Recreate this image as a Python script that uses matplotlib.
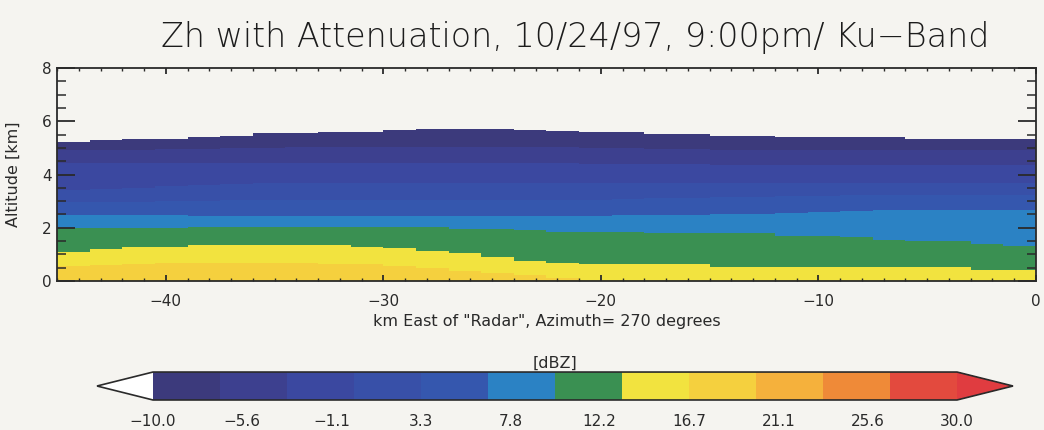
import numpy as np
import matplotlib
matplotlib.use("Agg")
import matplotlib.pyplot as plt
from matplotlib.colors import ListedColormap, BoundaryNorm
from matplotlib.ticker import MultipleLocator, FuncFormatter

# range columns (km east of radar), 1.5 km wide
x_edges = np.linspace(-45.0, 0.0, 31)

# heights (km) of the reflectivity level crossings in each column
echo_top = [5.24, 5.30, 5.34, 5.34, 5.40, 5.46, 5.55, 5.55, 5.61, 5.61,
            5.68, 5.71, 5.71, 5.71, 5.68, 5.65, 5.59, 5.59, 5.53, 5.53,
            5.45, 5.45, 5.40, 5.40, 5.40, 5.40, 5.33, 5.33, 5.33, 5.33]
h_m67 = [4.92, 4.92, 4.92, 4.94, 4.96, 4.98, 5.00, 5.02, 5.04, 5.04,
         5.04, 5.04, 5.04, 5.04, 5.04, 5.02, 5.00, 4.98, 4.96, 4.94,
         4.92, 4.92, 4.92, 4.92, 4.92, 4.92, 4.92, 4.92, 4.92, 4.92]
h_m33 = [4.44, 4.44, 4.44, 4.44, 4.44, 4.44, 4.44, 4.44, 4.44, 4.44,
         4.44, 4.44, 4.44, 4.44, 4.44, 4.42, 4.40, 4.40, 4.38, 4.38,
         4.36, 4.36, 4.36, 4.36, 4.36, 4.36, 4.36, 4.36, 4.36, 4.36]
h_0 = [3.42, 3.45, 3.50, 3.55, 3.60, 3.64, 3.68, 3.68, 3.68, 3.68,
       3.68, 3.68, 3.68, 3.68, 3.68, 3.68, 3.68, 3.68, 3.68, 3.68,
       3.68, 3.68, 3.68, 3.68, 3.68, 3.68, 3.68, 3.68, 3.68, 3.68]
h_33 = [2.95, 2.95, 2.98, 3.00, 3.02, 3.04, 3.05, 3.05, 3.05, 3.05,
        3.05, 3.05, 3.05, 3.05, 3.05, 3.05, 3.05, 3.08, 3.10, 3.12,
        3.14, 3.16, 3.18, 3.20, 3.22, 3.22, 3.24, 3.24, 3.24, 3.24]
h_67 = [2.48, 2.48, 2.48, 2.48, 2.46, 2.46, 2.44, 2.44, 2.44, 2.44,
        2.44, 2.44, 2.44, 2.44, 2.44, 2.44, 2.46, 2.48, 2.48, 2.48,
        2.50, 2.52, 2.54, 2.58, 2.62, 2.65, 2.67, 2.67, 2.67, 2.67]
h_10 = [1.98, 1.98, 1.98, 1.98, 2.04, 2.04, 2.04, 2.04, 2.04, 2.04,
        2.04, 2.04, 1.94, 1.94, 1.90, 1.85, 1.85, 1.85, 1.82, 1.82,
        1.82, 1.82, 1.70, 1.70, 1.67, 1.54, 1.52, 1.50, 1.38, 1.30]
h_133 = [1.10, 1.20, 1.29, 1.29, 1.35, 1.35, 1.35, 1.35, 1.35, 1.29,
         1.23, 1.14, 1.06, 0.91, 0.75, 0.69, 0.63, 0.63, 0.63, 0.63,
         0.54, 0.54, 0.54, 0.54, 0.54, 0.54, 0.51, 0.51, 0.41, 0.41]
h_167 = [0.55, 0.60, 0.64, 0.66, 0.66, 0.66, 0.66, 0.66, 0.64, 0.62,
         0.58, 0.50, 0.38, 0.30, 0.22, 0.12, 0.00, 0.00, 0.00, 0.00,
         0.00, 0.00, 0.00, 0.00, 0.00, 0.00, 0.00, 0.00, 0.00, 0.00]

levels = np.linspace(-10.0, 30.0, 13)
colors = ["#3c3a7c", "#3d408f", "#3b48a0", "#3850a8", "#3557ae", "#2b82c4",
          "#3a9052", "#f2e33f", "#f5d03e", "#f5b13c", "#ef8a38", "#e34a3e"]
cbar_ticks = np.linspace(-10.0, 30.0, 10)

title = "Zh with Attenuation, 10/24/97, 9:00pm/ Ku\u2212Band"

# build the height/range field: band index counts the crossings above each height
h_edges = np.linspace(0.0, 8.0, 801)
h_mid = 0.5 * (h_edges[1:] + h_edges[:-1])
crossings = np.array([h_m67, h_m33, h_0, h_33, h_67, h_10, h_133, h_167])
band_mid = 0.5 * (levels[1:] + levels[:-1])
band = (crossings[:, None, :] > h_mid[None, :, None]).sum(axis=0)
zh = band_mid[band]
zh = np.ma.masked_where(h_mid[:, None] > np.array(echo_top)[None, :], zh)

cmap = ListedColormap(colors)
cmap.set_under("white")
cmap.set_over("#e03c40")
cmap.set_bad((0, 0, 0, 0))
norm = BoundaryNorm(levels, cmap.N)

paper = "#f5f4f0"
ink = "#2a2a2a"
fig = plt.figure(figsize=(10.44, 4.30), dpi=100, facecolor=paper)
ax = fig.add_axes([0.0546, 0.3465, 0.9377, 0.4953], facecolor=paper)
mesh = ax.pcolormesh(x_edges, h_edges, zh, cmap=cmap, norm=norm, shading="flat")

ax.set_xlim(-45, 0)
ax.set_ylim(0, 8)
ax.set_xticks([-40, -30, -20, -10, 0])
ax.set_yticks([0, 2, 4, 6, 8])
ax.xaxis.set_minor_locator(MultipleLocator(1))
ax.yaxis.set_minor_locator(MultipleLocator(0.5))
ax.tick_params(axis="y", which="major", direction="in", length=13, width=1.3,
               left=True, right=True, color=ink, labelsize=11, pad=4, labelcolor=ink)
ax.tick_params(axis="y", which="minor", direction="in", length=6.5, width=1.1,
               left=True, right=True, color=ink)
ax.tick_params(axis="x", which="major", direction="in", length=4.5, width=1.3,
               top=True, bottom=True, color=ink, labelsize=11, pad=9, labelcolor=ink)
ax.tick_params(axis="x", which="minor", direction="in", length=2.5, width=1.0,
               top=True, bottom=True, color=ink)
for s in ax.spines.values():
    s.set_linewidth(1.3)
    s.set_color(ink)

ax.set_xlabel('km East of "Radar", Azimuth= 270 degrees', fontsize=11.5, color=ink)
ax.xaxis.set_label_coords(0.5, -0.155)
ax.set_ylabel("Altitude [km]", fontsize=11.5, color=ink)
ax.yaxis.set_label_coords(-0.037, 0.5)

fig.text(0.551, 0.912, title, fontsize=24, fontweight="light", color="#1c1c1c",
         ha="center", va="center")

# colorbar axes include the two extension triangles
cax = fig.add_axes([0.0929, 0.0698, 0.8774, 0.065])
cb = fig.colorbar(mesh, cax=cax, orientation="horizontal", extend="both",
                  extendfrac=0.0696, ticks=cbar_ticks)
cb.outline.set_linewidth(1.2)
cb.outline.set_edgecolor(ink)
cb.ax.xaxis.set_major_formatter(FuncFormatter(lambda v, p: f"{v:.1f}".replace("-", "\u2212")))
cb.ax.tick_params(length=0, pad=10, labelsize=11, labelcolor=ink)
cb.ax.minorticks_off()
cax.set_title("[dBZ]", fontsize=11.5, color=ink, pad=3)

fig.savefig("out.png", dpi=100, facecolor=paper)
